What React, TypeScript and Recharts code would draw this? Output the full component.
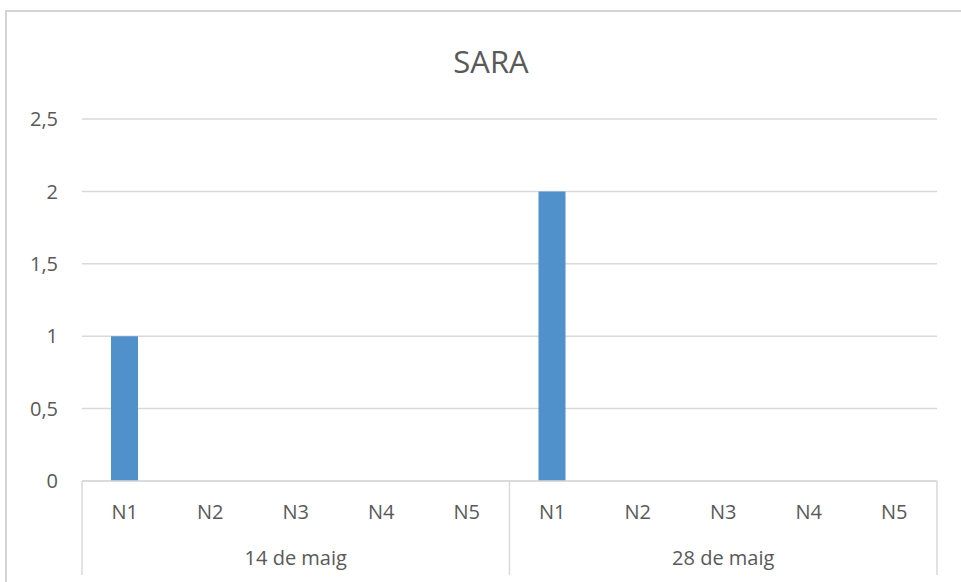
import { BarChart, Bar, XAxis, YAxis, CartesianGrid } from 'recharts';

const categories = ['N1', 'N2', 'N3', 'N4', 'N5'];
const groups = ['14 de maig', '28 de maig'];
const saraValues = [
  [1, 0, 0, 0, 0],
  [2, 0, 0, 0, 0],
];
const yTicks = [0, 0.5, 1, 1.5, 2, 2.5];

const rows = groups.flatMap((group, gi) =>
  categories.map((label, ci) => ({ label, group, value: saraValues[gi][ci] }))
);

const TEXT = '#595959';
const LINE = '#d9d9d9';
const FONT = '"Open Sans", sans-serif';
const CAT_AXIS_H = 46;
const GROUP_AXIS_H = 49;

// group labels under the N1..N5 row, with the divider lines between groups
function GroupTick(props: any) {
  const { x, y, payload, index, visibleTicksCount } = props;
  const half = payload?.offset ?? 213.75;
  const top = y - CAT_AXIS_H;
  const bottom = y + GROUP_AXIS_H - 1;
  const last = index === (visibleTicksCount ?? groups.length) - 1;
  return (
    <g>
      <line x1={x - half} x2={x - half} y1={top} y2={bottom} stroke={LINE} strokeWidth={1.5} />
      {last && <line x1={x + half} x2={x + half} y1={top} y2={bottom} stroke={LINE} strokeWidth={1.5} />}
      <text x={x} y={y + 24} dy="0.71em" textAnchor="middle" fill={TEXT} fontSize={20} fontFamily={FONT}>
        {payload.value}
      </text>
    </g>
  );
}

export default function App() {
  return (
    <div style={{ position: 'absolute', left: 0, top: 0, width: 961, height: 582, background: '#fff', overflow: 'hidden' }}>
      <div
        style={{
          position: 'absolute',
          left: 5,
          top: 10,
          width: 1000,
          height: 600,
          borderTop: '2px solid #d4d4d4',
          borderLeft: '2px solid #d4d4d4',
        }}
      />
      <div
        style={{
          position: 'absolute',
          left: 0,
          top: 41,
          width: 982,
          textAlign: 'center',
          fontFamily: FONT,
          fontSize: 31,
          color: TEXT,
          lineHeight: '40px',
        }}
      >
        SARA
      </div>
      <div style={{ position: 'absolute', left: 0, top: 0 }}>
        <BarChart
          width={961}
          height={582}
          data={rows}
          margin={{ top: 119, right: 24, left: 0, bottom: 6 }}
          barCategoryGap={0}
        >
          <CartesianGrid vertical={false} stroke={LINE} strokeWidth={1.5} />
          <XAxis
            dataKey="label"
            height={CAT_AXIS_H}
            axisLine={{ stroke: LINE, strokeWidth: 1.5 }}
            tickLine={false}
            tickSize={0}
            tickMargin={24}
            interval={0}
            tick={{ fill: TEXT, fontSize: 20, fontFamily: FONT }}
          />
          <XAxis
            xAxisId="group"
            dataKey="group"
            allowDuplicatedCategory={false}
            height={GROUP_AXIS_H}
            axisLine={false}
            tickLine={false}
            tickSize={0}
            tickMargin={0}
            interval={0}
            tick={<GroupTick />}
          />
          <YAxis
            domain={[0, 2.5]}
            ticks={yTicks}
            width={82}
            axisLine={false}
            tickLine={false}
            tickSize={0}
            tickMargin={24}
            tickFormatter={(v: number) => String(v).replace('.', ',')}
            tick={{ fill: TEXT, fontSize: 20, fontFamily: FONT }}
          />
          <Bar dataKey="value" fill="#5090cb" barSize={27} isAnimationActive={false} />
        </BarChart>
      </div>
    </div>
  );
}
